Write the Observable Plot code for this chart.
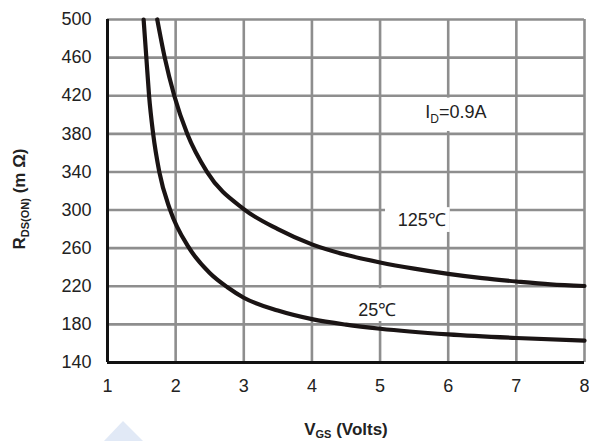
<!DOCTYPE html>
<html><head><meta charset="utf-8">
<script src="https://cdn.jsdelivr.net/npm/d3@7"></script>
<script src="https://cdn.jsdelivr.net/npm/@observablehq/plot@0.6"></script>
<style>
body{margin:0;background:#fff;}
#chart{position:relative;width:589px;height:441px;overflow:hidden;}
</style>
</head><body><div id="chart"></div>
<script>
const xTicks = [1,2,3,4,5,6,7,8];
const yTicks = [140,180,220,260,300,340,380,420,460,500];

const vgs25 = [1.53,1.57,1.61,1.67,1.76,1.92,2.19,2.5,2.76,3,3.5,4,4.5,5,6,7,8];
const r25   = [500,460,420,380,340,300,261,234,219,208,194.5,185.5,179.7,175.4,169.5,165.7,163];

const vgs125 = [1.73,1.84,1.98,2.17,2.46,3,3.5,4,4.5,5,5.5,6,6.5,7,7.5,8];
const r125   = [500,460,420,380,340,301,280,264,253,245,238.5,233,228.5,225,222,220.3];

const series = [
  ...vgs25.map((v,i)=>({vgs:v, r:r25[i], temp:"25"})),
  ...vgs125.map((v,i)=>({vgs:v, r:r125[i], temp:"125"}))
];

const FONT = "'Liberation Sans', Arial, Helvetica, sans-serif";

const plot = Plot.plot({
  width: 589, height: 441,
  marginTop: 19, marginRight: 5, marginBottom: 79, marginLeft: 107,
  style: {fontFamily: FONT, background: "#fff"},
  x: {domain: [1, 8]},
  y: {domain: [140, 500]},
  marks: [
    Plot.ruleX(xTicks, {stroke: "#8e8e8e", strokeWidth: 2.6}),
    Plot.ruleY(yTicks, {stroke: "#8e8e8e", strokeWidth: 2.6}),
    // white label backgrounds
    Plot.rect([0], {x1: 5.6, x2: 6.75, y1: 382.5, y2: 417.5, fill: "#fff"}),
    Plot.rect([0], {x1: 5.08, x2: 6.03, y1: 276.5, y2: 302.5, fill: "#fff"}),
    Plot.rect([0], {x1: 4.64, x2: 5.31, y1: 183, y2: 217.5, fill: "#fff"}),
    Plot.ruleX([1], {stroke: "#111", strokeWidth: 3}),
    Plot.ruleY([140], {stroke: "#111", strokeWidth: 3}),
    Plot.line(series, {x: "vgs", y: "r", z: "temp", stroke: "#1a1414", strokeWidth: 4.2, curve: "monotone-x"}),
    Plot.axisX({ticks: xTicks, tickSize: 0, tickPadding: 17, fontSize: 18, fill: "#222", label: null, tickFormat: d => String(d)}),
    Plot.axisY({ticks: yTicks, tickSize: 0, tickPadding: 16, fontSize: 18, fill: "#222", label: null, tickFormat: d => String(d)}),
    Plot.text(["125℃"], {x: 5.26, y: 289, text: d => d, textAnchor: "start", fontSize: 18, fill: "#222"}),
    Plot.text(["25℃"], {x: 4.68, y: 195, text: d => d, textAnchor: "start", fontSize: 18, fill: "#222"})
  ]
});

const svg = d3.select(plot);
const xs = plot.scale("x"), ys = plot.scale("y");

// I_D label with subscript
const idt = svg.append("text")
  .attr("x", xs.apply(5.67)).attr("y", ys.apply(403))
  .attr("dy", "0.35em")
  .attr("text-anchor", "start")
  .attr("font-size", 18).attr("fill", "#222").attr("font-family", FONT);
idt.append("tspan").text("I");
idt.append("tspan").attr("font-size", 12).attr("dy", 5).text("D");
idt.append("tspan").attr("dy", -5).text("=0.9A");

// X axis title
const xt = svg.append("text")
  .attr("x", 346).attr("y", 429).attr("dy", "0.35em")
  .attr("text-anchor", "middle")
  .attr("font-size", 17).attr("font-weight", "bold").attr("fill", "#222").attr("font-family", FONT);
xt.append("tspan").text("V");
xt.append("tspan").attr("font-size", 11).attr("dy", 3).text("GS");
xt.append("tspan").attr("dy", -3).text(" (Volts)");

// Y axis title
const yt = svg.append("text")
  .attr("transform", "translate(19,199) rotate(-90)")
  .attr("dy", "0.35em")
  .attr("text-anchor", "middle")
  .attr("font-size", 17).attr("font-weight", "bold").attr("fill", "#222").attr("font-family", FONT);
yt.append("tspan").text("R");
yt.append("tspan").attr("font-size", 11).attr("dy", 4).text("DS(ON)");
yt.append("tspan").attr("dy", -4).text(" (m Ω)");

// faint watermark triangle
svg.append("polygon").attr("points", "104,441 123,421 143,441").attr("fill", "#e1e9f6");

document.getElementById("chart").appendChild(plot);
</script>
</body></html>
